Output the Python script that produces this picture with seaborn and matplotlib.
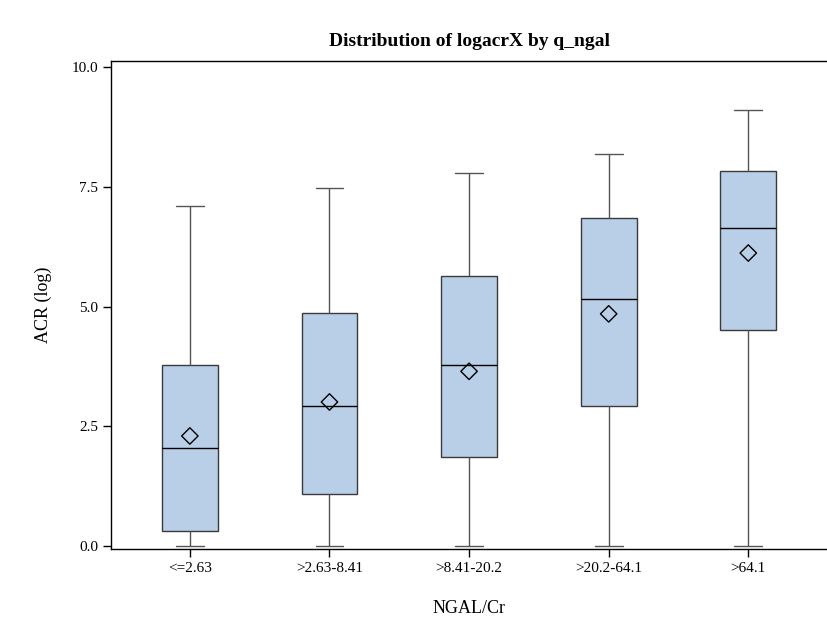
import seaborn as sns
import pandas as pd
import matplotlib.pyplot as plt

# Values
groups = ['<=2.63', '>2.63-8.41', '>8.41-20.2', '>20.2-64.1', '>64.1']
whisker_low = [0.0, 0.0, 0.0, 0.0, 0.0]
q1 = [0.31, 1.08, 1.86, 2.92, 4.52]
median = [2.05, 2.92, 3.79, 5.17, 6.64]
q3 = [3.79, 4.87, 5.63, 6.85, 7.83]
whisker_high = [7.10, 7.48, 7.80, 8.18, 9.10]
means = [2.30, 3.01, 3.65, 4.85, 6.12]

# Five-number summary per group; with 5 points the quartiles fall exactly on q1/q3
rows = []
for i, g in enumerate(groups):
    for v in [whisker_low[i], q1[i], median[i], q3[i], whisker_high[i]]:
        rows.append({'q_ngal': g, 'logacr': v})
df = pd.DataFrame(rows)
df_mean = pd.DataFrame({'q_ngal': groups, 'mean': means})

sns.set_theme(style='ticks')
plt.rcParams['font.family'] = ['Liberation Serif', 'DejaVu Serif']
plt.rcParams['text.color'] = 'black'
plt.rcParams['axes.labelcolor'] = 'black'
plt.rcParams['xtick.color'] = 'black'
plt.rcParams['ytick.color'] = 'black'

fig = plt.figure(figsize=(8.27, 6.26), dpi=100)
ax = fig.add_axes([0.1342, 0.123, 0.866, 0.7796])

sns.boxplot(
    data=df, x='q_ngal', y='logacr', order=groups,
    whis=(0, 100), width=0.4, color='#B9CFE7', saturation=1,
    linecolor='#3a3a3a', linewidth=1.0, fliersize=0,
    medianprops={'color': 'black', 'linewidth': 1.0},
    whiskerprops={'color': '#555555'},
    capprops={'color': '#555555'},
    ax=ax
)

# Means as open diamonds
sns.scatterplot(
    data=df_mean, x='q_ngal', y='mean', marker='D', s=70,
    facecolor='none', edgecolor='black', linewidth=1.0, ax=ax, zorder=5
)

ax.set_xlim(-0.565, 4.565)
ax.set_ylim(-0.06, 10.13)
ax.set_yticks([0, 2.5, 5.0, 7.5, 10.0])
ax.set_yticklabels(['0.0', '2.5', '5.0', '7.5', '10.0'])
ax.spines['right'].set_visible(False)
for s in ['left', 'bottom', 'top']:
    ax.spines[s].set_color('black')
    ax.spines[s].set_linewidth(1.0)
ax.tick_params(axis='both', length=6, width=1.0, color='black', labelsize=11, pad=3)

ax.set_title('Distribution of logacrX by q_ngal', fontsize=14, fontweight='bold',
             pad=11, color='black')
ax.set_xlabel('NGAL/Cr', fontsize=13, labelpad=18)
ax.set_ylabel('ACR (log)', fontsize=13, labelpad=14)

plt.savefig('out.png', dpi=100)
